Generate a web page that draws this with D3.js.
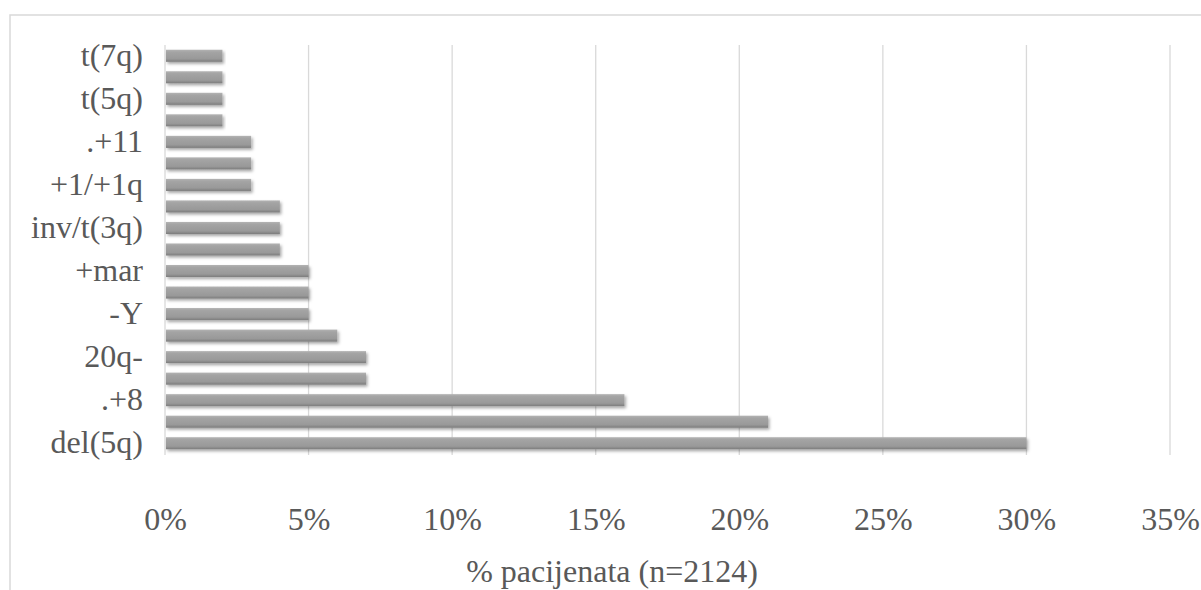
<!DOCTYPE html>
<html>
<head>
<meta charset="utf-8">
<script src="https://cdn.jsdelivr.net/npm/d3@7"></script>
<style>
    html, body { margin: 0; padding: 0; background: #fff; }
    svg { display: block; }
</style>
</head>
<body>
<div id="chart"></div>
<script>
// categories from bottom to top; only every other one gets a label in the reference
const categories = [
    'del(5q)', 'c2', '.+8', 'c4', '20q-', 'c6', '-Y', 'c8', '+mar', 'c10',
    'inv/t(3q)', 'c12', '+1/+1q', 'c14', '.+11', 'c16', 't(5q)', 'c18', 't(7q)',
];
const values = [30, 21, 16, 7, 7, 6, 5, 5, 5, 4, 4, 4, 3, 3, 3, 2, 2, 2, 2];
const xTicks = [0, 5, 10, 15, 20, 25, 30, 35];
const axisTitle = '% pacijenata (n=2124)';

const W = 1201;
const H = 590;
const margin = { top: 45, right: 31, bottom: 136, left: 165 };
const font = '"Liberation Serif", "Times New Roman", serif';
const textColor = '#595959';
const gridColor = '#d9d9d9';

const data = categories.map((key, i) => ({ key, value: values[i], labelled: i % 2 === 0 }));

const svg = d3.select('#chart').append('svg')
    .attr('width', W)
    .attr('height', H);

const defs = svg.append('defs');
const grad = defs.append('linearGradient')
    .attr('id', 'barFill')
    .attr('x1', 0).attr('y1', 0).attr('x2', 0).attr('y2', 1);
[['0%', '#b3b3b3'], ['20%', '#a4a4a4'], ['75%', '#999999'], ['100%', '#7c7c7c']]
    .forEach(([o, c]) => grad.append('stop').attr('offset', o).attr('stop-color', c));
defs.append('filter')
    .attr('id', 'shadow')
    .attr('x', '-5%').attr('y', '-40%').attr('width', '110%').attr('height', '200%')
    .append('feDropShadow')
    .attr('dx', 1.5).attr('dy', 2).attr('stdDeviation', 1.6)
    .attr('flood-color', '#000').attr('flood-opacity', 0.35);

// chart frame (cut off at the right and bottom)
svg.append('path')
    .attr('d', `M10,${H} V15 H${W}`)
    .attr('fill', 'none')
    .attr('stroke', gridColor)
    .attr('stroke-width', 1.5);

const width = W - margin.left - margin.right;
const height = H - margin.top - margin.bottom;
const g = svg.append('g').attr('transform', `translate(${margin.left},${margin.top})`);

const x = d3.scaleLinear().domain([0, 35]).range([0, width]);
const y = d3.scaleBand()
    .domain(categories.slice().reverse())
    .range([0, height])
    .paddingInner(0.44)
    .paddingOuter(0.22);

// gridlines
g.append('g')
    .selectAll('line')
    .data(xTicks)
    .join('line')
    .attr('x1', (d) => x(d)).attr('x2', (d) => x(d))
    .attr('y1', 0).attr('y2', height + 1)
    .attr('stroke', gridColor)
    .attr('stroke-width', 1.3);

// bars
g.append('g')
    .selectAll('rect')
    .data(data)
    .join('rect')
    .attr('x', x(0) + 1)
    .attr('y', (d) => y(d.key))
    .attr('width', (d) => x(d.value) - x(0) - 1)
    .attr('height', y.bandwidth())
    .attr('fill', 'url(#barFill)')
    .attr('filter', 'url(#shadow)');

// y axis labels
const yAxis = d3.axisLeft(y)
    .tickSize(0)
    .tickPadding(22)
    .tickFormat((d) => (data.find((e) => e.key === d).labelled ? d : ''));
g.append('g')
    .call(yAxis)
    .call((s) => s.select('.domain').remove())
    .selectAll('text')
    .attr('font-family', font)
    .attr('font-size', 32)
    .attr('fill', textColor);

// x axis labels
const xAxis = d3.axisBottom(x)
    .tickValues(xTicks)
    .tickSize(0)
    .tickPadding(53)
    .tickFormat((d) => `${d}%`);
g.append('g')
    .attr('transform', `translate(0,${height})`)
    .call(xAxis)
    .call((s) => s.select('.domain').remove())
    .selectAll('text')
    .attr('font-family', font)
    .attr('font-size', 32)
    .attr('fill', textColor);

svg.append('text')
    .attr('x', 612)
    .attr('y', 582)
    .attr('text-anchor', 'middle')
    .attr('font-family', font)
    .attr('font-size', 32)
    .attr('fill', textColor)
    .text(axisTitle);
</script>
</body>
</html>
